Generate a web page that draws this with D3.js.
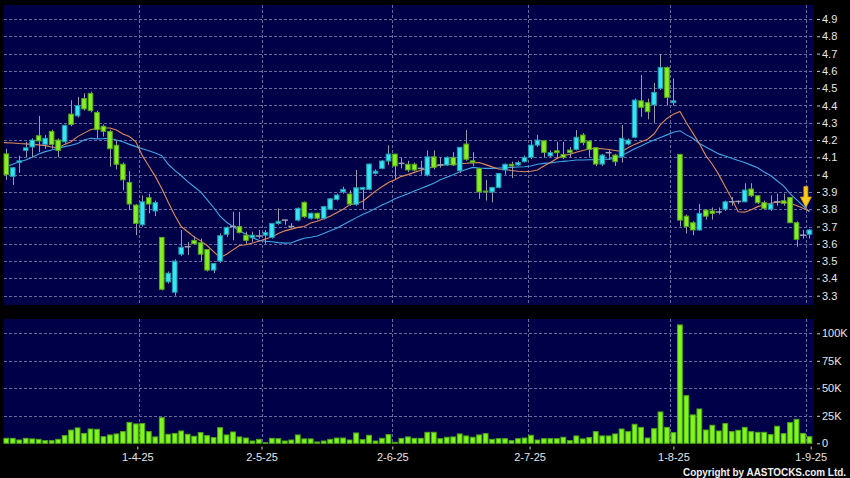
<!DOCTYPE html>
<html><head><meta charset="utf-8">
<script src="https://cdn.jsdelivr.net/npm/d3@7"></script>
<style>html,body{margin:0;padding:0;background:#000;}svg{display:block;font-family:"Liberation Sans",Arial,sans-serif;}</style>
</head><body><svg id="c" width="850" height="478"></svg>
<script>
// ---- data ----
const dates = [
"2025-03-03","2025-03-04","2025-03-05","2025-03-06","2025-03-07","2025-03-10","2025-03-11","2025-03-12","2025-03-13","2025-03-14",
"2025-03-17","2025-03-18","2025-03-19","2025-03-20","2025-03-21","2025-03-24","2025-03-25","2025-03-26","2025-03-27","2025-03-28","2025-03-31",
"2025-04-01","2025-04-02","2025-04-03","2025-04-07","2025-04-08","2025-04-09","2025-04-10","2025-04-11","2025-04-14","2025-04-15","2025-04-16","2025-04-17",
"2025-04-22","2025-04-23","2025-04-24","2025-04-25","2025-04-28","2025-04-29","2025-04-30",
"2025-05-02","2025-05-06","2025-05-07","2025-05-08","2025-05-09","2025-05-12","2025-05-13","2025-05-14","2025-05-15","2025-05-16",
"2025-05-19","2025-05-20","2025-05-21","2025-05-22","2025-05-23","2025-05-26","2025-05-27","2025-05-28","2025-05-29","2025-05-30",
"2025-06-02","2025-06-03","2025-06-04","2025-06-05","2025-06-06","2025-06-09","2025-06-10","2025-06-11","2025-06-12","2025-06-13",
"2025-06-16","2025-06-17","2025-06-18","2025-06-19","2025-06-20","2025-06-23","2025-06-24","2025-06-25","2025-06-26","2025-06-27","2025-06-30",
"2025-07-02","2025-07-03","2025-07-04","2025-07-07","2025-07-08","2025-07-09","2025-07-10","2025-07-11","2025-07-14","2025-07-15","2025-07-16",
"2025-07-17","2025-07-18","2025-07-21","2025-07-22","2025-07-23","2025-07-24","2025-07-25","2025-07-28","2025-07-29","2025-07-30","2025-07-31",
"2025-08-01","2025-08-04","2025-08-05","2025-08-06","2025-08-07","2025-08-08","2025-08-11","2025-08-12","2025-08-13","2025-08-14","2025-08-15",
"2025-08-18","2025-08-19","2025-08-20","2025-08-21","2025-08-22","2025-08-25","2025-08-26","2025-08-27","2025-08-28","2025-08-29","2025-09-01"];

const open = [4.12,3.99,4.07,4.14,4.16,4.225,4.175,4.25,4.20,4.19,
4.35,4.34,4.44,4.47,4.36,4.28,4.25,4.17,4.06,3.955,3.824,
3.71,3.867,3.79,3.637,3.38,3.32,3.54,3.583,3.62,3.606,3.567,3.448,
3.50,3.655,3.70,3.70,3.65,3.635,3.645,
3.65,3.637,3.718,3.737,3.70,3.737,3.84,3.748,3.777,3.748,
3.80,3.857,3.90,3.888,3.828,3.915,3.915,4.008,4.036,4.079,
4.119,4.065,4.06,4.06,4.036,3.998,4.103,4.056,4.056,4.10,
4.023,4.177,4.08,4.036,3.905,3.90,3.926,4.027,4.06,4.056,4.075,
4.10,4.171,4.196,4.108,4.138,4.117,4.142,4.146,4.229,4.194,4.156,
4.061,4.127,4.113,4.103,4.177,4.216,4.427,4.416,4.403,4.499,4.62,
4.416,4.117,3.76,3.722,3.68,3.795,3.79,3.784,3.80,3.843,3.845,
3.843,3.917,3.878,3.838,3.80,3.843,3.849,3.868,3.722,3.65,3.655];

const close = [4.00,4.04,4.08,4.155,4.20,4.195,4.21,4.175,4.14,4.285,
4.29,4.40,4.38,4.37,4.26,4.25,4.15,4.06,3.97,3.83,3.718,
3.843,3.83,3.838,3.337,3.43,3.50,3.58,3.583,3.60,3.54,3.448,3.486,
3.647,3.695,3.70,3.665,3.62,3.65,3.645,
3.665,3.718,3.73,3.737,3.70,3.805,3.757,3.777,3.748,3.815,
3.86,3.882,3.915,3.83,3.924,3.926,4.061,4.02,4.079,4.119,
4.05,4.065,4.027,4.027,4.036,4.103,4.042,4.056,4.10,4.056,
4.158,4.089,4.07,3.90,3.90,3.926,4.007,4.06,4.05,4.07,4.10,
4.171,4.20,4.129,4.127,4.127,4.10,4.127,4.216,4.185,4.146,4.061,
4.113,4.127,4.075,4.21,4.20,4.431,4.389,4.364,4.476,4.62,4.447,
4.427,3.737,3.70,3.68,3.776,3.76,3.776,3.784,3.843,3.843,3.845,
3.911,3.878,3.838,3.805,3.83,3.843,3.834,3.722,3.626,3.65,3.68];

const high = [4.15,4.045,4.11,4.19,4.21,4.34,4.23,4.26,4.21,4.29,
4.43,4.45,4.47,4.48,4.37,4.29,4.26,4.20,4.07,4.02,3.83,
3.88,3.89,3.85,3.64,3.44,3.51,3.68,3.61,3.645,3.63,3.57,3.49,
3.66,3.70,3.785,3.785,3.67,3.67,3.68,
3.68,3.72,3.805,3.74,3.72,3.81,3.845,3.78,3.78,3.82,
3.865,3.89,3.93,3.91,4.027,3.93,4.065,4.03,4.085,4.17,
4.12,4.10,4.08,4.07,4.08,4.14,4.14,4.10,4.105,4.13,
4.16,4.258,4.13,4.04,3.97,3.93,4.01,4.065,4.075,4.08,4.11,
4.20,4.23,4.20,4.14,4.19,4.19,4.16,4.258,4.24,4.20,4.16,
4.12,4.142,4.12,4.287,4.21,4.44,4.576,4.44,4.53,4.698,4.625,
4.557,4.12,3.77,3.73,3.83,3.80,3.81,3.81,3.85,3.87,3.85,
3.95,3.95,3.88,3.85,3.88,3.89,3.89,3.87,3.73,3.68,3.685];

const low = [3.97,3.94,4.01,4.10,4.10,4.13,4.15,4.15,4.10,4.18,
4.28,4.33,4.37,4.36,4.21,4.22,4.046,4.03,3.91,3.795,3.65,
3.70,3.776,3.76,3.33,3.37,3.30,3.53,3.535,3.593,3.50,3.44,3.43,
3.49,3.64,3.62,3.66,3.60,3.61,3.63,
3.60,3.63,3.71,3.71,3.69,3.73,3.75,3.74,3.74,3.74,
3.795,3.85,3.89,3.82,3.82,3.80,3.91,4.0,4.03,4.056,
3.97,4.036,4.015,4.02,4.00,3.99,4.03,4.04,4.05,4.05,
4.01,4.08,4.05,3.86,3.85,3.84,3.92,4.00,3.98,4.05,4.07,
4.09,4.16,4.10,4.10,4.09,4.09,4.10,4.14,4.17,4.10,4.05,
4.05,4.085,4.05,4.07,4.17,4.21,4.335,4.32,4.30,4.49,4.40,
4.40,3.70,3.66,3.65,3.675,3.74,3.74,3.77,3.79,3.82,3.83,
3.84,3.87,3.83,3.80,3.79,3.82,3.82,3.72,3.583,3.63,3.63];

// volume in thousands of shares
const volumeK = [4.5,4.5,3,4.5,4,3.6,2.4,2.4,3.6,7,
12,14,9,13,12.7,6,7.6,8.5,10.6,19,17.6,
18,10.6,5.8,23.3,8.2,9,11.2,8.2,6.4,9.7,7,5.2,
14.2,7.6,10.3,5.8,4.8,2.1,3.6,
0.6,4.5,4.2,2.1,3,7.6,4,4,1.2,2.1,
3.6,4.8,4.8,3,9.4,3.3,7.3,2.1,4.5,7.9,
0.9,4.5,5.8,4.5,4.5,10,10,4.2,5.5,5.8,
8.5,6.7,5.5,7.6,8.8,3.6,4.2,4.2,2.4,4.2,4.8,
7.3,3,4.2,4.2,4.2,5.5,2.4,6.7,4,5.2,10.6,
6.7,6.7,8.5,13,10.6,17.3,14.5,4.8,13.3,28.5,14.5,
9.7,107.6,43.3,25.8,31.2,12.1,16.4,11.2,17.9,10.6,11.8,
14.5,10.6,10,10,7.9,15.5,8.8,18.8,21.8,9,6];

// moving averages
const maShort = [4.185,4.183,4.18,4.178,4.175,4.172,4.168,4.16,4.155,4.175,
4.19,4.22,4.24,4.26,4.268,4.27,4.27,4.258,4.235,4.22,4.19,
4.11,4.05,3.99,3.92,3.84,3.765,3.70,3.67,3.64,3.617,3.59,3.555,
3.52,3.54,3.565,3.59,3.595,3.605,3.615,
3.628,3.64,3.66,3.675,3.685,3.695,3.70,3.72,3.73,3.745,
3.76,3.78,3.80,3.825,3.835,3.845,3.875,3.905,3.93,3.955,
3.97,3.99,4.0,4.013,4.025,4.035,4.045,4.056,4.058,4.06,
4.063,4.066,4.068,4.07,4.058,4.045,4.033,4.03,4.024,4.02,4.017,
4.02,4.027,4.05,4.07,4.093,4.11,4.118,4.13,4.14,4.148,4.152,
4.15,4.145,4.14,4.134,4.155,4.175,4.19,4.205,4.235,4.29,4.325,
4.35,4.365,4.30,4.24,4.18,4.11,4.06,4.00,3.93,3.86,3.785,
3.783,3.797,3.815,3.826,3.835,3.84,3.843,3.835,3.822,3.805,3.79];

const maLong = [4.045,4.06,4.075,4.085,4.10,4.12,4.133,4.143,4.152,4.162,
4.17,4.18,4.20,4.21,4.207,4.208,4.21,4.20,4.19,4.175,4.162,
4.15,4.138,4.125,4.11,4.06,4.025,3.995,3.96,3.93,3.90,3.855,3.81,
3.76,3.725,3.70,3.675,3.655,3.635,3.62,
3.615,3.612,3.607,3.604,3.605,3.62,3.632,3.638,3.645,3.66,
3.675,3.69,3.71,3.73,3.75,3.77,3.785,3.805,3.825,3.84,
3.86,3.875,3.89,3.905,3.92,3.935,3.95,3.97,3.985,4.00,
4.017,4.03,4.042,4.038,4.036,4.036,4.038,4.04,4.042,4.044,4.046,
4.05,4.06,4.065,4.068,4.073,4.077,4.08,4.085,4.085,4.086,4.087,
4.088,4.09,4.094,4.11,4.13,4.15,4.165,4.185,4.20,4.215,4.23,
4.245,4.254,4.23,4.21,4.18,4.16,4.14,4.12,4.108,4.095,4.082,
4.07,4.055,4.04,4.015,3.995,3.965,3.935,3.89,3.855,3.82,3.785];

const priceTicks = [3.3,3.4,3.5,3.6,3.7,3.8,3.9,4,4.1,4.2,4.3,4.4,4.5,4.6,4.7,4.8,4.9];
const volTicks = [0,25,50,75,100];
const volTickLabels = ["0","25K","50K","75K","100K"];
const dateTicks = ["2025-04-01","2025-05-02","2025-06-02","2025-07-02","2025-08-01","2025-09-01"];
const dateTickLabels = ["1-4-25","2-5-25","2-6-25","2-7-25","1-8-25","1-9-25"];
const arrowPrice = 3.81;
const copyright = "Copyright by AASTOCKS.com Ltd.";

// ---- drawing ----
const svg = d3.select("#c");
const W = 850, H = 478;
const P = {left: 4, right: 814, top: 5, bottom: 305};
const V = {top: 319, bottom: 443.5};

const candles = dates.map((d, i) => ({d, o: open[i], h: high[i], l: low[i], c: close[i], v: volumeK[i], m1: maShort[i], m2: maLong[i]}));

const x = d3.scaleBand().domain(dates).range([3.06, 812.7]).padding(0);
const cx = d => x(d) + x.bandwidth() / 2;
const xTick = d3.scalePoint().domain(dates).range([0, 810.7]);
const yP = d3.scaleLinear().domain([3.3, 4.9]).range([295.7, 19]);
const yV = d3.scaleLinear().domain([0, 100]).range([443.3, 333.3]);

svg.append("rect").attr("width", W).attr("height", H).attr("fill", "#000");
const panelFill = "#000048";
svg.append("rect").attr("x", P.left).attr("y", P.top).attr("width", P.right - P.left).attr("height", P.bottom - P.top).attr("fill", panelFill);
svg.append("rect").attr("x", P.left).attr("y", V.top).attr("width", P.right - P.left).attr("height", V.bottom - V.top).attr("fill", panelFill);

const gridColor = "#6a6a9c";
const grid = svg.append("g").attr("stroke", gridColor).attr("stroke-width", 1).attr("stroke-dasharray", "3,2").attr("shape-rendering", "crispEdges");
grid.selectAll(".hp").data(priceTicks).join("line")
  .attr("x1", P.left).attr("x2", P.right).attr("y1", d => Math.round(yP(d)) + 0.5).attr("y2", d => Math.round(yP(d)) + 0.5);
grid.selectAll(".hv").data(volTicks.slice(1)).join("line")
  .attr("x1", P.left).attr("x2", P.right).attr("y1", d => Math.round(yV(d)) + 0.5).attr("y2", d => Math.round(yV(d)) + 0.5);
grid.selectAll(".vp").data(dateTicks).join("line")
  .attr("x1", d => Math.round(x(d)) + 0.5).attr("x2", d => Math.round(x(d)) + 0.5).attr("y1", P.top).attr("y2", P.bottom);
grid.selectAll(".vv").data(dateTicks).join("line")
  .attr("x1", d => Math.round(x(d)) + 0.5).attr("x2", d => Math.round(x(d)) + 0.5).attr("y1", V.top).attr("y2", V.bottom);

// volume bars
svg.append("g").selectAll("rect").data(candles).join("rect")
  .attr("x", d => cx(d.d) - 2.4).attr("width", 4.8)
  .attr("y", d => yV(d.v)).attr("height", d => Math.max(0.5, yV(0) - yV(d.v)))
  .attr("fill", "#80f520").attr("stroke", "#4ea812").attr("stroke-width", 1);

// MA lines
const clip = svg.append("defs").append("clipPath").attr("id", "pc").append("rect")
  .attr("x", P.left).attr("y", P.top).attr("width", P.right - P.left).attr("height", P.bottom - P.top);
const lineG = svg.append("g").attr("clip-path", "url(#pc)");
lineG.append("path").datum(candles)
  .attr("d", d3.line().x(d => cx(d.d)).y(d => yP(d.m2)))
  .attr("fill", "none").attr("stroke", "#3ea6e6").attr("stroke-width", 1.1);
lineG.append("path").datum(candles)
  .attr("d", d3.line().x((d, i) => i === 0 ? P.left : cx(d.d)).y(d => yP(d.m1)))
  .attr("fill", "none").attr("stroke", "#e08a58").attr("stroke-width", 1.1);

// candles
const cg = svg.append("g");
cg.selectAll("line").data(candles).join("line")
  .attr("x1", d => Math.round(cx(d.d)) + 0.5).attr("x2", d => Math.round(cx(d.d)) + 0.5)
  .attr("y1", d => yP(d.h)).attr("y2", d => yP(d.l))
  .attr("stroke", "#9a9aaa").attr("stroke-width", 1);
const isDoji = d => Math.abs(d.c - d.o) < 0.004;
cg.selectAll("rect").data(candles.filter(d => !isDoji(d))).join("rect")
  .attr("x", d => cx(d.d) - 2.3).attr("width", 4.6)
  .attr("y", d => yP(Math.max(d.o, d.c)))
  .attr("height", d => Math.max(1, yP(Math.min(d.o, d.c)) - yP(Math.max(d.o, d.c))))
  .attr("fill", d => d.c >= d.o ? "#36e4f2" : "#86ee24")
  .attr("stroke", d => d.c >= d.o ? "#1e9cb0" : "#56a818").attr("stroke-width", 1);
cg.selectAll(".dj").data(candles.filter(isDoji)).join("line")
  .attr("x1", d => cx(d.d) - 3).attr("x2", d => cx(d.d) + 3)
  .attr("y1", d => yP(d.c)).attr("y2", d => yP(d.c))
  .attr("stroke", "#a0a0b0").attr("stroke-width", 1.5);

// arrow annotation at last candle
const last = candles[candles.length - 1];
const ax = cx(last.d) - 3.6, ay = yP(arrowPrice);
svg.append("path")
  .attr("d", `M${ax - 2},${ay - 21} L${ax + 2},${ay - 21} L${ax + 2},${ay - 10.5} L${ax + 5.5},${ay - 10.5} L${ax},${ay} L${ax - 5.5},${ay - 10.5} L${ax - 2},${ay - 10.5} Z`)
  .attr("fill", "#f8cc1c").attr("stroke", "#d89a10").attr("stroke-width", 0.8);

// axes
const txtColor = "#e6e6e6";
function styleAxis(g) {
  g.select(".domain").remove();
  g.selectAll(".tick line").attr("stroke", "#cfcfcf");
  g.selectAll(".tick text").attr("fill", txtColor).attr("font-size", 11).attr("font-family", '"Liberation Sans", Arial, sans-serif');
}
svg.append("g").attr("transform", "translate(817,0)")
  .call(d3.axisRight(yP).tickValues(priceTicks).tickSize(3).tickPadding(2).tickFormat(d => String(d)))
  .call(styleAxis);
svg.append("g").attr("transform", "translate(817,0)")
  .call(d3.axisRight(yV).tickValues(volTicks).tickSize(3).tickPadding(2).tickFormat((d, i) => volTickLabels[i]))
  .call(styleAxis);
svg.append("g").attr("transform", "translate(0,446.5)")
  .call(d3.axisBottom(xTick).tickValues(dateTicks).tickSize(3).tickPadding(4).tickFormat((d, i) => dateTickLabels[i]))
  .call(styleAxis);

svg.append("text").attr("x", 846).attr("y", 475.5).attr("text-anchor", "end")
  .attr("fill", "#f0f0f0").attr("font-size", 10).attr("font-weight", "bold")
  .attr("textLength", 163).attr("lengthAdjust", "spacingAndGlyphs")
  .text(copyright);
</script></body></html>
